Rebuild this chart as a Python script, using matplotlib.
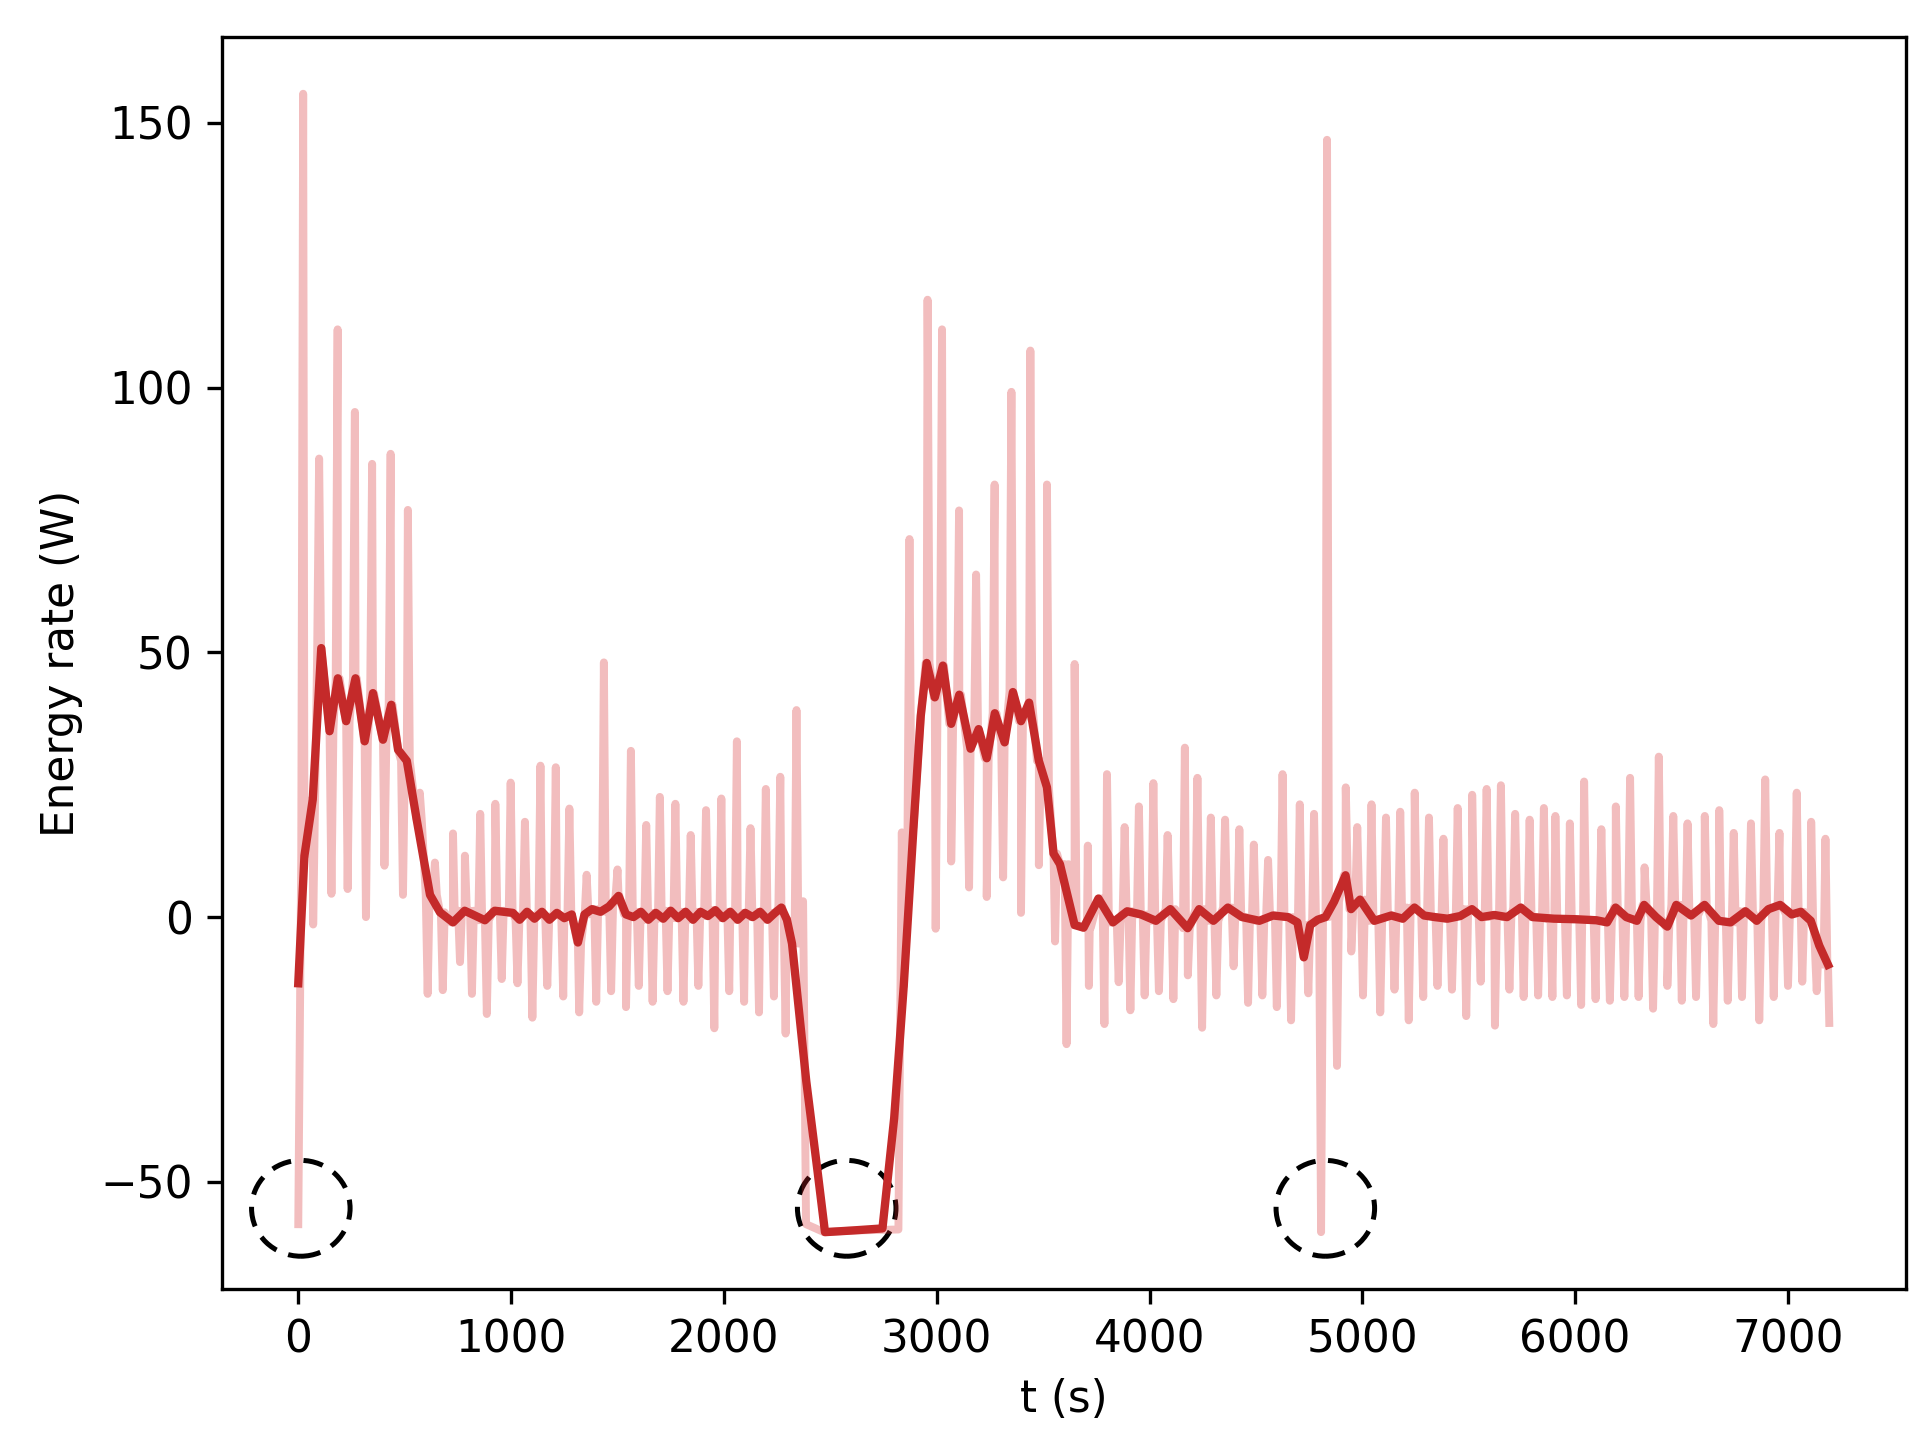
import numpy as np
import matplotlib
matplotlib.use('Agg')
import matplotlib.pyplot as plt
from matplotlib.patches import Ellipse

# smoothed energy rate (dark line)
smooth_t = np.array([0, 29, 68, 108, 147, 186, 225, 269, 312, 351, 398, 437, 469, 510, 556, 619, 666,
                     727, 782, 877, 923, 1008, 1040, 1075, 1110, 1145, 1180, 1215, 1250, 1285, 1314,
                     1345, 1380, 1420, 1460, 1505, 1540, 1575, 1610, 1645, 1680, 1715, 1750, 1785, 1820,
                     1855, 1890, 1925, 1960, 1995, 2030, 2065, 2100, 2135, 2170, 2205, 2240, 2270, 2296,
                     2320, 2387, 2440, 2475, 2600, 2745, 2800, 2845, 2891, 2925, 2953, 2991, 3029, 3068,
                     3106, 3159, 3197, 3235, 3273, 3319, 3358, 3396, 3434, 3480, 3518, 3549, 3579, 3648,
                     3690, 3760, 3828, 3895, 3960, 4030, 4098, 4179, 4233, 4300, 4368, 4435, 4516, 4580,
                     4651, 4695, 4725, 4755, 4790, 4827, 4867, 4921, 4947, 4989, 5056, 5136, 5190, 5245,
                     5290, 5340, 5400, 5460, 5515, 5560, 5620, 5680, 5744, 5800, 5900, 6000, 6100, 6150,
                     6190, 6240, 6290, 6324, 6380, 6433, 6475, 6545, 6608, 6675, 6730, 6800, 6853, 6908,
                     6963, 7018, 7060, 7107, 7147, 7188])
smooth_v = np.array([-12.5, 11.6, 22.2, 50.8, 35.1, 45.1, 37.0, 45.1, 33.2, 42.3, 33.5, 40.1, 31.6, 29.5,
                     18.5, 4.2, 0.9, -1.0, 1.2, -0.6, 1.2, 0.8, -0.5, 1.0, -0.3, 1.0, -0.5, 0.8, -0.2,
                     0.5, -4.8, 0.5, 1.5, 1.0, 2.0, 4.0, 0.5, 0.0, 1.0, -0.5, 0.8, -0.3, 1.2, -0.2, 1.0,
                     -0.5, 1.0, 0.2, 1.3, -0.2, 1.0, -0.5, 0.8, 0.0, 1.0, -0.5, 0.8, 1.8, -0.5,
                     -5.0, -31.0, -48.0, -59.5, -59.2, -58.8, -38.0, -13.0, 17.0, 38.0, 48.0, 41.5, 47.5, 36.5,
                     42.0, 31.8, 35.5, 30.0, 38.5, 33.0, 42.5, 37.0, 40.5, 29.5, 24.5, 12.0, 10.0, -1.5,
                     -2.0, 3.5, -1.0, 1.1, 0.5, -0.7, 1.5, -2.1, 1.5, -0.7, 1.8, 0.0, -0.7, 0.3,
                     0.0, -1.0, -7.6, -1.5, -0.5, 0.0, 2.9, 7.9, 1.5, 3.3, -0.7, 0.3, -0.3, 1.8,
                     0.3, 0.0, -0.3, 0.2, 1.5, 0.0, 0.4, 0.0, 1.8, 0.0, -0.3, -0.4, -0.6, -1.0,
                     1.8, 0.0, -0.7, 2.3, 0.0, -1.8, 2.3, 0.3, 2.3, -0.7, -1.0, 1.1, -0.7, 1.5,
                     2.3, 0.5, 1.0, -0.7, -5.4, -9.0])

# upward spikes of the raw signal
peak_t = [23, 98, 185, 266, 347, 434, 515, 571, 642, 727, 783, 855, 926, 998, 1065, 1138, 1210, 1274,
          1355, 1436, 1500, 1563, 1635, 1699, 1772, 1844, 1916, 1988, 2061, 2125, 2197, 2265, 2341,
          2872, 2957, 3025, 3105, 3185, 3272, 3351, 3440, 3518, 3648, 3710, 3800, 3883, 3950, 4018,
          4085, 4166, 4225, 4288, 4355, 4422, 4490, 4557, 4625, 4706, 4773, 4834, 4922, 4976, 5043,
          5111, 5178, 5246, 5313, 5381, 5448, 5516, 5584, 5651, 5718, 5786, 5853, 5907, 5975, 6042,
          6123, 6191, 6258, 6326, 6393, 6461, 6528, 6609, 6677, 6745, 6826, 6893, 6960, 7041, 7109, 7176]
peak_v = [155.5, 86.6, 111.0, 95.4, 85.6, 87.5, 76.9, 23.5, 10.3, 15.8, 11.6, 19.5, 21.4, 25.4, 18.0,
          28.6, 28.3, 20.5, 8.0, 48.1, 9.0, 31.4, 17.4, 22.7, 21.4, 15.5, 20.2, 22.4, 33.2, 16.8, 24.2,
          26.5, 39.1, 71.4, 116.6, 111.0, 76.8, 64.7, 81.7, 99.2, 107.0, 81.7, 47.8, 13.5, 27.0, 17.0,
          20.9, 25.3, 15.5, 32.0, 26.3, 18.8, 18.4, 16.6, 13.7, 10.8, 27.0, 21.3, 19.5, 146.8, 24.5,
          17.0, 21.3, 18.8, 19.9, 23.5, 18.8, 14.8, 20.6, 23.1, 24.2, 24.9, 19.5, 18.4, 20.6, 19.1,
          17.7, 25.6, 16.6, 20.9, 26.3, 9.4, 30.3, 19.1, 17.7, 19.1, 20.2, 15.9, 17.7, 26.0, 15.9,
          23.5, 18.0, 14.8]

# downward spikes of the raw signal
dip_t = [70, 156, 232, 318, 405, 492, 608, 679, 760, 816, 886, 956, 1030, 1100, 1170, 1245, 1320,
         1400, 1470, 1540, 1600, 1665, 1735, 1810, 1880, 1955, 2025, 2095, 2165, 2235, 2290,
         2995, 3068, 3152, 3235, 3312, 3396, 3480, 3556, 3610, 3715, 3788, 3855, 3910, 3977, 4044,
         4112, 4180, 4247, 4314, 4395, 4463, 4530, 4598, 4665, 4746, 4806, 4881, 4948, 5003, 5084,
         5151, 5218, 5286, 5353, 5421, 5488, 5556, 5623, 5691, 5758, 5826, 5893, 5961, 6028, 6096,
         6163, 6231, 6298, 6366, 6433, 6501, 6568, 6649, 6717, 6784, 6865, 6933, 7000, 7067, 7135]
dip_v = [-1.4, 4.4, 5.3, 0.0, 9.7, 4.2, -14.5, -13.8, -8.5, -14.5, -18.3, -11.7, -12.5, -19.0, -13.0,
         -15.0, -18.0, -16.0, -14.0, -17.0, -13.0, -16.0, -14.0, -16.0, -13.0, -21.0, -14.0, -16.0,
         -18.0, -15.0, -22.0, -2.2, 10.5, 5.6, 3.8, 7.5, 0.8, 9.8, -4.6, -24.0, -13.0, -20.2, -12.3,
         -17.6, -14.8, -14.0, -15.5, -11.0, -20.9, -14.8, -9.3, -16.2, -14.8, -17.0, -19.5, -14.4,
         -59.5, -28.1, -6.5, -14.8, -18.0, -13.7, -19.5, -15.1, -13.0, -13.7, -18.7, -12.2, -20.5,
         -13.7, -15.1, -14.8, -15.1, -14.8, -16.6, -15.5, -15.8, -15.1, -15.1, -17.3, -13.0, -15.8,
         -15.1, -20.2, -15.8, -15.1, -19.5, -15.1, -13.0, -12.2, -14.0]

# raw-only stretches: start, the pump-off gap, end
gap_t = [2372, 2386, 2470, 2600, 2820, 2836]
gap_v = [3, -58, -59.5, -59.2, -59, 16]
raw_start = (0, -58)
raw_end = (7194, -20)

# dashed circles
circle_t = [12, 2577, 4826]
circle_v = [-55, -55, -55]

# build the raw trace: smoothed level plus the narrow spikes
pts = [(t, v) for t, v in zip(smooth_t, smooth_v)
       if t > 5 and not (gap_t[0] <= t <= gap_t[-1])]
pts += list(zip(gap_t, gap_v))
half = 9
for t, v in list(zip(peak_t, peak_v)) + list(zip(dip_t, dip_v)):
    b = smooth_v[np.abs(smooth_t - t).argmin()]
    pts += [(t - half, b), (t, v), (t + half, b)]
pts.sort(key=lambda p: p[0])
pts = [raw_start] + pts + [raw_end]
raw_t = np.array([p[0] for p in pts])
raw_v = np.array([p[1] for p in pts])

fig = plt.figure(figsize=(1928 / 300, 1450 / 300), dpi=300)
ax = fig.add_axes([0.115, 0.111, 0.8735, 0.8636])

ax.plot(raw_t, raw_v, color='tab:red', alpha=0.3, lw=1.9)
ax.plot(smooth_t, smooth_v, color='#c42a2a', lw=2.0)

# add_artist so the circles do not change the autoscaled limits
for ct, cv in zip(circle_t, circle_v):
    ax.add_artist(Ellipse((ct, cv), 463, 18.1, fill=False, ec='k', lw=1.2, ls=(0, (4, 2.5))))

ax.set_xlabel('t (s)', fontsize=10.5)
ax.set_ylabel('Energy rate (W)', fontsize=10.5)
ax.tick_params(labelsize=10.5)

fig.savefig('out.png', dpi=300)
